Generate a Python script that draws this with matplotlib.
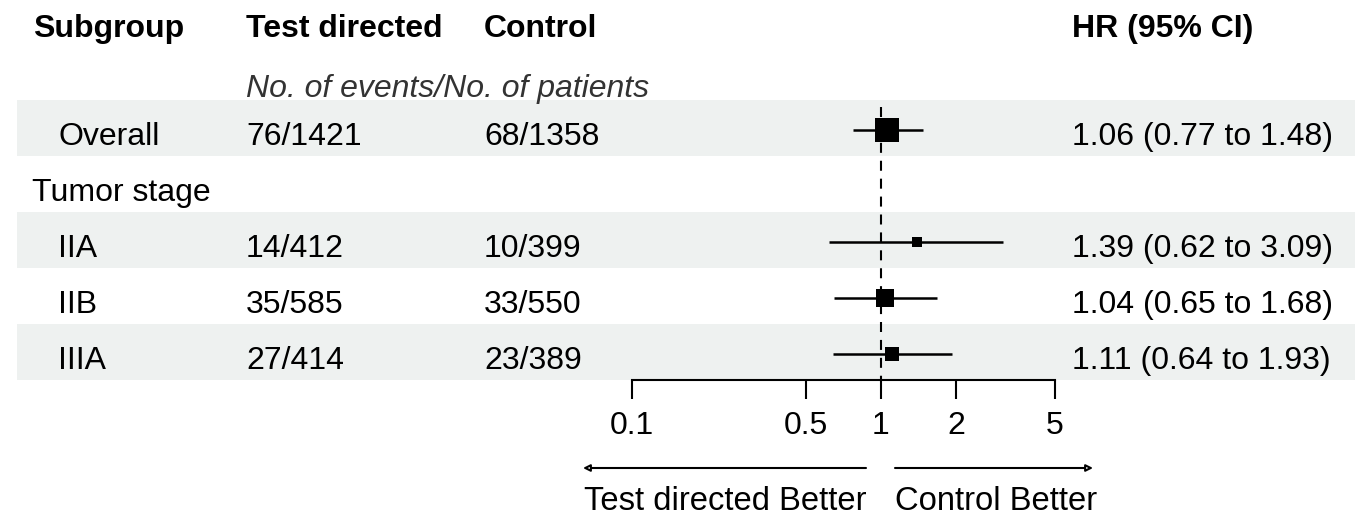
import numpy as np
import matplotlib
matplotlib.use("Agg")
import matplotlib.pyplot as plt

plt.rcParams["font.family"] = ["Liberation Sans", "DejaVu Sans"]

# table data
subgroups = ["Overall", "Tumor stage", "IIA", "IIB", "IIIA"]
indented = [True, False, True, True, True]
test_directed = ["76/1421", "", "14/412", "35/585", "27/414"]
control = ["68/1358", "", "10/399", "33/550", "23/389"]
hr = [1.06, np.nan, 1.39, 1.04, 1.11]
ci_lo = [0.77, np.nan, 0.62, 0.65, 0.64]
ci_hi = [1.48, np.nan, 3.09, 1.68, 1.93]

headers = ["Subgroup", "Test directed", "Control", "HR (95% CI)"]
x_ticks = [0.1, 0.5, 1, 2, 5]
x_ticklabels = ["0.1", "0.5", "1", "2", "5"]

W, H = 1355, 519
fs = 23
row_top0 = 100
row_h = 56

fig = plt.figure(figsize=(W / 100, H / 100), dpi=100)
bg = fig.add_axes([0, 0, 1, 1])
bg.set_xlim(0, W)
bg.set_ylim(H, 0)
bg.axis("off")

# header
for txt, x in zip(headers, [33, 246, 484, 1072]):
    bg.text(x, 37, txt, fontsize=fs, fontweight="bold", va="baseline")
bg.text(246, 97, "No. of events/No. of patients", fontsize=fs,
        style="italic", color="#333333", va="baseline")

# rows
for i, name in enumerate(subgroups):
    top = row_top0 + i * row_h
    if i % 2 == 0:
        bg.axhspan(top, top + row_h, xmin=17 / W, xmax=1, color="#eef1f0",
                   lw=0, zorder=0)
    base = top + 45
    bg.text(58 if indented[i] else 32, base, name, fontsize=fs, va="baseline")
    bg.text(246, base, test_directed[i], fontsize=fs, va="baseline")
    bg.text(484, base, control[i], fontsize=fs, va="baseline")
    if not np.isnan(hr[i]):
        bg.text(1072, base, f"{hr[i]:.2f} ({ci_lo[i]:.2f} to {ci_hi[i]:.2f})",
                fontsize=fs, va="baseline")

# forest panel
ax_bottom = 380
fa = fig.add_axes([632 / W, (H - ax_bottom) / H, (1055 - 632) / W, ax_bottom / H])
fa.patch.set_alpha(0)
fa.set_xscale("log")
fa.set_xlim(0.1, 5)
fa.set_ylim(ax_bottom, 0)
for s in ["top", "left", "right"]:
    fa.spines[s].set_visible(False)
fa.spines["bottom"].set_linewidth(1.5)
fa.set_yticks([])
fa.set_xticks(x_ticks)
fa.set_xticklabels(x_ticklabels)
fa.minorticks_off()
fa.tick_params(axis="x", direction="out", length=13.5, width=1.5, pad=9,
               labelsize=fs, colors="black")

fa.vlines(1, 107, ax_bottom, colors="black", lw=1.5,
          linestyles=(0, (4.8, 3.8)))

# box size from inverse standard error
hr_a, lo_a, hi_a = np.array(hr), np.array(ci_lo), np.array(ci_hi)
se = (np.log(hi_a) - np.log(lo_a)) / (2 * 1.96)
box = 3.0 / se
for i in range(len(subgroups)):
    if np.isnan(hr[i]):
        continue
    y = row_top0 + i * row_h + row_h / 2 + 2
    fa.plot([ci_lo[i], ci_hi[i]], [y, y], color="black", lw=1.8,
            solid_capstyle="butt", clip_on=False)
    fa.plot(hr[i], y, marker="s", ms=box[i], color="black", mew=0,
            clip_on=False)

# direction arrows
arrow_y = 468
bg.annotate("", xy=(583, arrow_y), xytext=(866, arrow_y),
            arrowprops=dict(arrowstyle="-|>", fc="white", ec="black", lw=1.5,
                            mutation_scale=10, shrinkA=0, shrinkB=0))
bg.annotate("", xy=(1093, arrow_y), xytext=(895, arrow_y),
            arrowprops=dict(arrowstyle="-|>", fc="white", ec="black", lw=1.5,
                            mutation_scale=10, shrinkA=0, shrinkB=0))
bg.text(866, 510, "Test directed Better", fontsize=23.6, ha="right",
        va="baseline")
bg.text(895, 510, "Control Better", fontsize=23.6, ha="left", va="baseline")

fig.savefig("out.png", dpi=100)
